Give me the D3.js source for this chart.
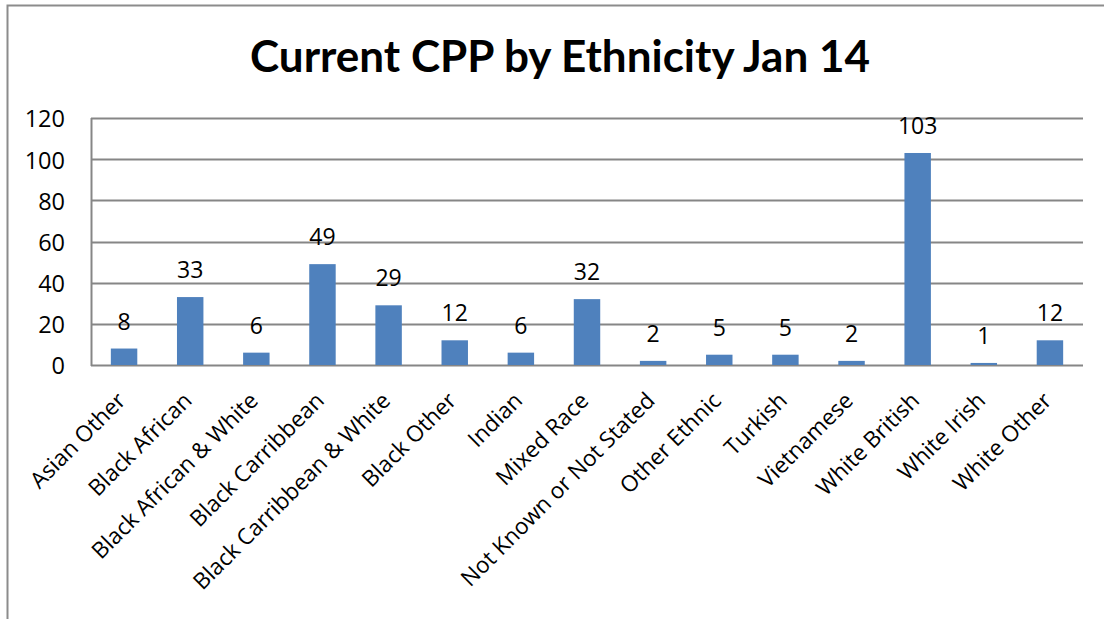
<!DOCTYPE html>
<html><head><meta charset="utf-8">
<script src="https://cdn.jsdelivr.net/npm/d3@7"></script>
<style>body{margin:0;background:#fff;} svg{display:block;}</style>
</head><body>
<svg id="chart" width="1104" height="619"></svg>
<script>
const categories = ["Asian Other","Black African","Black African & White","Black Carribbean","Black Carribbean & White","Black Other","Indian","Mixed Race","Not Known or Not Stated","Other Ethnic","Turkish","Vietnamese","White British","White Irish","White Other"];
const values = [8,33,6,49,29,12,6,32,2,5,5,2,103,1,12];
const yTicks = [0,20,40,60,80,100,120];
const title = "Current CPP by Ethnicity Jan 14";

const svg = d3.select("#chart");
const m = {left:91, top:118, right:1083, bottom:365};
const font = "'Open Sans', sans-serif";

// outer frame
svg.append("path").attr("d","M7.5,619 L7.5,5.5 L1104,5.5").attr("fill","none").attr("stroke","#8c8c8c").attr("stroke-width",2);

const x = d3.scaleBand().domain(categories).range([m.left,m.right]).paddingInner(0.6).paddingOuter(0.3);
const y = d3.scaleLinear().domain([0,120]).range([m.bottom,m.top]);

// gridlines
svg.append("g").selectAll("line").data(yTicks).join("line")
  .attr("x1",m.left).attr("x2",m.right)
  .attr("y1",d=>Math.round(y(d))+0.5).attr("y2",d=>Math.round(y(d))+0.5)
  .attr("stroke","#868686").attr("stroke-width",2);
// left axis line
svg.append("line").attr("x1",m.left+0.5).attr("x2",m.left+0.5).attr("y1",m.top).attr("y2",m.bottom+1)
  .attr("stroke","#868686").attr("stroke-width",2);

// y tick labels
svg.append("g").selectAll("text").data(yTicks).join("text")
  .attr("x",65).attr("y",d=>y(d)+1).attr("dy","0.36em")
  .attr("text-anchor","end").attr("font-family",font).attr("font-size",23.5).attr("fill","#000")
  .text(d=>d);

// bars
svg.append("g").selectAll("rect").data(values).join("rect")
  .attr("x",(d,i)=>x(categories[i])).attr("width",x.bandwidth())
  .attr("y",d=>y(d)).attr("height",d=>y(0)-y(d))
  .attr("fill","#4f81bd");

// value labels
svg.append("g").selectAll("text").data(values).join("text")
  .attr("x",(d,i)=>x(categories[i])+x.bandwidth()/2).attr("y",d=>y(d)-19)
  .attr("text-anchor","middle").attr("font-family",font).attr("font-size",23).attr("fill","#000")
  .text(d=>d);

// category labels
svg.append("g").selectAll("text").data(categories).join("text")
  .attr("transform",d=>`translate(${x(d)+x.bandwidth()/2+3},${m.bottom+37}) rotate(-45)`)
  .attr("text-anchor","end").attr("font-family",font).attr("font-size",22.5).attr("fill","#000")
  .text(d=>d);

// title
svg.append("text").attr("x",560).attr("y",72).attr("text-anchor","middle")
  .attr("font-family","Lato, sans-serif").attr("font-weight","bold").attr("font-size",44).attr("fill","#000")
  .text(title);
</script>
</body></html>
